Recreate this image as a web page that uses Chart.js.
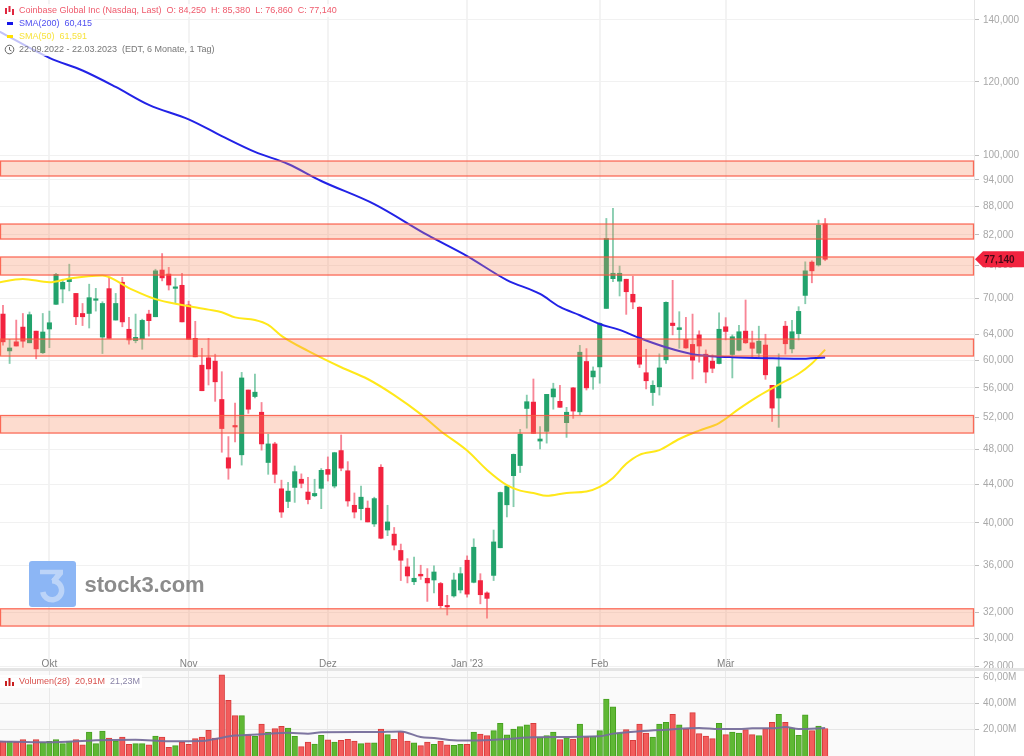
<!DOCTYPE html>
<html>
<head>
<meta charset="utf-8">
<title>Coinbase Global Inc</title>
<script src="https://cdn.jsdelivr.net/npm/chart.js@4"></script>
<style>
html,body{margin:0;padding:0;background:#fff;width:1024px;height:756px;overflow:hidden;font-family:"Liberation Sans",Arial,sans-serif}
#wm{position:absolute;left:29px;top:561px;width:47px;height:46px}
#wmt{position:absolute;left:84.5px;top:571px;font-size:22px;line-height:28px;font-weight:bold;color:#8c8c8c;letter-spacing:-.1px}
canvas{position:absolute;left:0}
#c1{top:0}
#c2{top:671px}
#sep{position:absolute;left:0;top:668px;width:1024px;height:3px;background:#e4e4e4}
.lg{position:absolute;left:0;font-size:9px;line-height:13px;height:13px;white-space:pre;background:rgba(255,255,255,.72);padding-left:19px;padding-right:2px}
.lg svg{position:absolute;left:4px;top:1px}
</style>
</head>
<body>
<canvas id="c1" width="1024" height="668"></canvas>
<canvas id="c2" width="1024" height="85"></canvas>
<svg id="wm" viewBox="0 0 47 46"><rect width="47" height="46" rx="3" fill="#8cb6f5"/><path d="M11 8.700H34V13.300L28 20.500L22 19L26.500 13.300H11Z" fill="#bcd4f8"/><path d="M23 19.800A9.500 9.500 0 1 1 13.800 31" fill="none" stroke="#bcd4f8" stroke-width="5.500"/></svg>
<div id="wmt">stock3.com</div>
<div id="sep"></div>
<div class="lg" style="top:4px;color:#ef5a6c"><svg width="11" height="11" viewBox="0 0 11 11"><path d="M1 3H3V9H1ZM4.500 1H6.500V7H4.500ZM8 4H10V10H8Z" fill="#e0263f"/></svg>Coinbase Global Inc (Nasdaq, Last)  O: 84,250  H: 85,380  L: 76,860  C: 77,140</div>
<div class="lg" style="top:17px;color:#4f4ff0"><svg width="11" height="11" viewBox="0 0 11 11"><rect x="3" y="4" width="6" height="3" fill="#1515e8"/></svg>SMA(200)  60,415</div>
<div class="lg" style="top:30px;color:#f7e33d"><svg width="11" height="11" viewBox="0 0 11 11"><rect x="3" y="4" width="6" height="3" fill="#ffe000"/></svg>SMA(50)  61,591</div>
<div class="lg" style="top:43px;color:#777"><svg width="11" height="11" viewBox="0 0 11 11"><circle cx="5.500" cy="5.500" r="4.300" fill="none" stroke="#666" stroke-width="1"/><path d="M5.500 3V5.800L7.500 7" fill="none" stroke="#666" stroke-width="1"/></svg>22.09.2022 - 22.03.2023  (EDT, 6 Monate, 1 Tag)</div>
<div class="lg" style="top:675px;color:#d9534f;background:rgba(255,255,255,.85)"><svg width="11" height="11" viewBox="0 0 11 11"><path d="M1 5H3V10H1ZM4.500 2H6.500V10H4.500ZM8 6H10V10H8Z" fill="#c81e1e"/></svg>Volumen(28)  20,91M  <span style="color:#8a84a8">21,23M</span></div>
<script>
// Price values in USD, one entry per trading day (22.09.2022 - 22.03.2023)
const opens = [
67.3,61.4,62.8,65.15,62.65,64.5,61.12,64.84,68.95,71.63,
72.95,70.85,67.4,67.4,69.65,63.55,71.7,66.3,72.85,64.8,
63.0,63.3,67.3,66.85,75.1,74.35,71.75,72.3,68.85,63.35,
59.25,60.35,59.85,54.4,47.05,50.9,47.4,55.7,54.8,52.7,
46.5,48.7,43.55,42.2,43.7,44.6,43.2,42.8,43.6,45.7,
43.85,47.9,45.55,41.8,41.45,41.5,39.9,45.95,39.3,38.9,
37.35,35.85,34.55,35.2,34.85,34.7,34.4,32.5,33.35,33.85,
36.45,34.5,34.65,33.6,35.1,37.6,41.85,45.0,46.15,53.2,
54.05,49.05,50.25,54.75,54.15,51.35,56.0,52.75,59.8,57.55,
59.0,68.25,73.5,73.05,73.4,70.7,68.45,58.15,55.35,56.15,
60.05,65.8,64.75,63.2,62.4,63.9,60.9,59.85,59.5,65.2,
60.85,61.5,64.5,62.65,61.05,62.3,56.35,54.6,65.3,61.7,
64.1,70.5,76.6,76.05,84.25];
const highs = [
68.8,63.2,66.3,67.4,67.65,64.5,67.4,67.8,74.5,73.4,
76.2,70.85,69.1,72.5,71.75,69.4,73.75,70.85,73.75,66.75,
67.3,66.45,67.95,75.25,78.25,75.6,73.6,74.5,69.5,66.1,
61.8,63.35,60.9,58.3,49.6,53.9,58.2,55.7,57.95,54.0,
49.9,48.9,44.5,44.25,46.1,45.2,44.8,44.6,45.8,47.15,
47.7,49.8,46.6,43.1,43.85,42.25,42.65,46.25,41.8,39.55,
37.95,36.6,36.75,36.0,35.7,35.95,34.5,33.4,35.3,35.8,
36.85,38.45,35.25,33.7,39.3,43.2,43.95,47.5,50.5,55.0,
57.25,50.85,55.1,56.65,56.35,53.35,56.05,62.25,61.75,59.0,
65.85,85.4,87.6,75.85,73.4,73.95,68.55,61.65,57.0,60.95,
69.4,73.2,67.7,66.75,67.3,64.55,61.55,60.8,67.5,66.7,
63.9,65.45,69.7,64.5,65.3,64.0,56.35,60.95,66.1,66.25,
68.55,76.65,76.85,85.05,85.38];
const lows = [
62.3,59.5,62.15,61.95,62.65,60.2,61.0,61.9,68.95,69.2,
71.3,65.55,65.4,65.0,67.8,61.0,63.35,66.3,65.2,62.45,
62.65,61.65,63.7,66.85,73.1,71.45,69.2,66.0,63.2,60.5,
55.6,56.4,54.15,47.7,44.6,48.95,46.2,52.55,54.6,47.95,
45.15,44.2,40.55,41.55,42.1,43.65,41.95,42.7,41.45,44.4,
43.65,45.55,41.7,40.5,40.3,40.1,39.65,38.45,38.75,37.4,
34.65,34.45,34.3,34.75,32.9,33.6,32.35,31.8,33.25,33.6,
33.25,34.45,32.7,31.55,34.65,37.6,40.6,41.65,45.35,50.65,
50.0,48.1,48.8,53.1,53.35,49.5,51.9,52.35,55.7,55.8,
56.65,68.25,72.95,70.4,67.25,68.2,58.9,55.85,53.6,55.0,
59.5,63.9,61.8,61.8,57.25,59.7,56.7,58.15,59.45,63.1,
57.4,61.4,62.55,60.5,60.5,57.2,51.5,50.75,60.9,61.1,
63.1,69.05,72.75,75.85,76.86];
const closes = [
62.8,61.85,62.15,62.9,67.2,61.7,64.36,65.86,74.3,72.83,
73.55,66.85,66.85,70.1,69.8,69.1,63.35,69.1,66.0,63.1,
63.5,66.25,66.2,74.95,73.65,72.35,72.0,66.0,63.2,60.5,
55.6,58.7,56.85,50.6,45.85,50.8,57.4,53.1,55.4,48.7,
48.7,45.15,41.1,43.3,45.45,44.15,42.4,43.05,45.6,45.15,
47.65,45.85,42.25,41.1,42.65,40.1,42.5,38.5,40.1,37.85,
36.45,35.05,34.85,35.05,34.45,35.4,32.55,32.45,34.7,35.25,
33.5,37.65,33.45,33.15,38.15,43.15,43.85,47.45,49.9,54.1,
50.0,49.3,55.1,55.85,53.35,52.7,52.85,61.2,56.0,58.4,
65.75,81.25,74.5,74.5,71.15,69.35,59.4,57.0,56.35,58.85,
69.3,65.4,65.05,61.85,60.0,62.15,58.25,58.8,64.8,64.45,
63.6,64.4,62.65,61.8,62.9,57.85,53.25,59.0,62.5,64.4,
67.75,74.95,74.95,83.95,77.14];
// Daily volume in millions
const volumes = [
11.15,11.15,10.4,12.4,8.6,12.4,10.4,11.15,12.4,9.4,
11.4,12.4,8.4,18.25,9.4,19,13.7,11.4,14.45,8.9,
9.4,9.4,8.4,15.2,14.45,6.6,7.85,10.65,8.9,13.2,
14.45,19.5,13.7,61.6,42.3,30.7,30.7,16,15,24.3,
18.25,20.8,22.6,21.3,15,7.1,10.65,9.1,15.7,12.2,
10.65,11.9,12.7,11.4,9.4,10.1,10.1,20.5,16.2,12.7,
18.5,11.4,10.1,7.85,10.65,8.9,11.4,8.4,8.1,8.9,
8.9,18.25,16.7,15.5,19.3,24.8,16,20.5,22.3,23.6,
24.8,14.2,15.5,18.25,12.4,13.9,12.9,24.3,14.45,15,
19.3,43.3,37.3,17.5,20,11.9,24.3,17.5,14.45,24.3,
25.6,31.7,23.6,20.5,33,17,15.2,13.2,24.8,16.2,
18.25,17.5,20,16.2,15.5,20.8,25.6,31.7,25.6,21.3,
15.7,31.2,19.3,22.8,20.91];
// Moving averages read at selected trading-day indices
const sma200Days = [-1,7,12,17,22,28,33,38,43,48,56,64,70,76,81,84,87,90,93,96,100,104,107,110,115,120,124];
const sma200Vals = [136.6,127.4,123.45,118.5,113.3,109.3,104.85,100.8,97.8,93.75,88.5,81.95,77.75,73.25,70.75,68.5,67.1,65.65,64.7,63.4,61.95,60.9,60.6,60.45,60.3,60.2,60.415];
const sma50Days = [-1,3,7,10,15,19,23,27,31,33,35,38,40,42,46,51,55,59,63,66,70,73,76,78,80,82,85,88,90,92,94,96,99,102,105,108,111,114,117,120,122,124];
const sma50Vals = [72.75,73.45,72.85,73.55,74.1,71.8,69.85,68.85,68.05,67.6,66.75,66.3,65.5,63.75,61.4,58.95,57.25,55.0,52.45,50.3,47.9,45.65,43.95,43.35,43.1,42.8,43.1,43.25,43.75,44.75,46.35,47.4,47.95,49.3,50.35,51.3,53.15,54.9,56.45,58.0,59.5,61.591];
const volMaDays = [-1,7,14,20,25,30,32,35,39,43,46,48,56,60,63,65,69,71,76,80,90,92,96,100,105,108,111,113,116,118,120,124];
const volMaVals = [11.1,10.4,12,12.4,11.2,11.4,13,15.5,16.5,17.7,17,18,18.2,18.7,14.4,13.7,11.7,11.7,12.9,14.2,15,17,18.8,20,21.3,20.5,20.5,21,21,22,20.5,21.23];
// Resistance / support zones
const zoneLows  = [94.92,81.13,74.17,60.62,50.04,30.94];
const zoneHighs = [98.53,84.22,77.58,63.24,52.27,32.30];
// Axis labels
const priceTicks = [140,120,100,94,88,82,76,70,64,60,56,52,48,44,40,36,32,30,28];
const volumeTicks = [20,40,60];
const monthDays = [7,28,49,70,90,109];
const monthLabels = ['Okt','Nov','Dez',"Jan '23",'Feb','Mär'];

const FONT = '"Liberation Sans", Arial, sans-serif';
Chart.defaults.font.family = FONT;
Chart.defaults.font.size = 10;
Chart.defaults.animation = false;

const UP = '#22a36c', DOWN = '#f2233f';
const UPW = 'rgba(34,163,108,.55)', DOWNW = 'rgba(242,35,63,.55)';
const idx = closes.map((_, i) => i);
const isUp = i => closes[i] >= opens[i];

function noPad(s) { s.paddingTop = s.paddingBottom = s.paddingLeft = s.paddingRight = 0; }
const xBase = {
  type: 'linear', min: -0.45, max: 146.45, offset: false,
  afterBuildTicks: s => { s.ticks = monthDays.map(v => ({ value: v })); },
  afterFit: s => { s.height = 0; noPad(s); },
  border: { display: false }
};
function yRight(extra) {
  return Object.assign({
    position: 'right',
    afterFit: s => { s.width = 50; noPad(s); },
    border: { display: true, color: '#e6e6e6', width: 1 }
  }, extra);
}

const zonesPlugin = {
  id: 'zones',
  afterDatasetsDraw(chart) {
    const { ctx, chartArea: a, scales: { y } } = chart;
    ctx.save();
    zoneLows.forEach((lo, i) => {
      const t = y.getPixelForValue(zoneHighs[i]), b = y.getPixelForValue(lo);
      ctx.fillStyle = 'rgba(248,140,95,.3)';
      ctx.fillRect(a.left, t, a.right - a.left, b - t);
      ctx.strokeStyle = 'rgba(250,85,65,.85)';
      ctx.lineWidth = 1.3;
      ctx.strokeRect(a.left + .5, t, a.right - a.left - 1, b - t);
    });
    ctx.restore();
  },
  afterDraw(chart) {
    const { ctx, scales: { y } } = chart;
    const last = closes[closes.length - 1], p = y.getPixelForValue(last);
    ctx.save();
    ctx.fillStyle = '#f2233f';
    ctx.beginPath();
    ctx.moveTo(975, p); ctx.lineTo(983, p - 8); ctx.lineTo(1024, p - 8); ctx.lineTo(1024, p + 8); ctx.lineTo(983, p + 8);
    ctx.closePath(); ctx.fill();
    ctx.fillStyle = '#4a0a18';
    ctx.font = 'bold 10px ' + FONT;
    ctx.textBaseline = 'middle';
    ctx.fillText(last.toFixed(3).replace('.', ','), 984, p + .5);
    ctx.restore();
  }
};

new Chart(document.getElementById('c1'), {
  type: 'bar',
  data: {
    datasets: [
      { type: 'bar', label: 'High-Low', order: 4, grouped: false, barThickness: 1.2,
        data: idx.map(i => ({ x: i, y: [lows[i], highs[i]] })),
        backgroundColor: idx.map(i => isUp(i) ? UPW : DOWNW) },
      { type: 'bar', label: 'Open-Close', order: 3, grouped: false, barThickness: 4.4, minBarLength: 1.5,
        data: idx.map(i => ({ x: i, y: [opens[i], closes[i]] })),
        backgroundColor: idx.map(i => isUp(i) ? UP : DOWN) },
      { type: 'line', label: 'SMA(200)', order: 1, borderColor: '#2222e6', borderWidth: 2, pointRadius: 0, cubicInterpolationMode: 'monotone',
        data: sma200Days.map((d, i) => ({ x: d, y: sma200Vals[i] })) },
      { type: 'line', label: 'SMA(50)', order: 2, borderColor: '#ffe81a', borderWidth: 2, pointRadius: 0, cubicInterpolationMode: 'monotone',
        data: sma50Days.map((d, i) => ({ x: d, y: sma50Vals[i] })) }
    ]
  },
  options: {
    responsive: false, devicePixelRatio: 1,
    layout: { padding: 0 },
    plugins: { legend: { display: false }, tooltip: { enabled: false } },
    scales: {
      x: Object.assign({}, xBase, {
        grid: { offset: false, color: '#f3f3f3', lineWidth: 2, drawTicks: false },
        ticks: { autoSkip: false, maxRotation: 0, mirror: true, padding: -2, color: '#808080', font: { size: 10 },
          callback: v => monthLabels[monthDays.indexOf(v)] }
      }),
      y: yRight({
        type: 'logarithmic', min: 27.87, max: 147.15,
        afterBuildTicks: s => { s.ticks = priceTicks.map(v => ({ value: v })); },
        grid: { color: '#f1f1f1', lineWidth: 1, tickColor: '#bdbdbd', tickLength: 5 },
        ticks: { autoSkip: false, padding: 4, color: '#a8a8a8', font: { size: 10 },
          callback: v => v.toFixed(3).replace('.', ',') }
      })
    }
  },
  plugins: [zonesPlugin]
});

new Chart(document.getElementById('c2'), {
  type: 'bar',
  data: {
    datasets: [
      { type: 'bar', label: 'Volumen', order: 2, grouped: false, barThickness: 5.6, borderWidth: 1,
        data: idx.map(i => ({ x: i, y: volumes[i] })),
        backgroundColor: idx.map(i => isUp(i) ? '#5fb834' : '#f25c5c'),
        borderColor: idx.map(i => isUp(i) ? '#46a01f' : '#d83c3c') },
      { type: 'line', label: 'MA(28)', order: 1, borderColor: 'rgba(118,110,155,.95)', borderWidth: 2, pointRadius: 0, cubicInterpolationMode: 'monotone',
        data: volMaDays.map((d, i) => ({ x: d, y: volMaVals[i] })) }
    ]
  },
  options: {
    responsive: false, devicePixelRatio: 1,
    layout: { padding: 0 },
    plugins: { legend: { display: false }, tooltip: { enabled: false } },
    scales: {
      x: Object.assign({}, xBase, {
        grid: { offset: false, color: '#e9e9e9', lineWidth: 1, drawTicks: false },
        ticks: { display: false }
      }),
      y: yRight({
        type: 'linear', min: 0, max: 64.6,
        afterBuildTicks: s => { s.ticks = volumeTicks.map(v => ({ value: v })); },
        grid: { color: '#e6e6e6', lineWidth: 1, tickColor: '#bdbdbd', tickLength: 5 },
        ticks: { autoSkip: false, padding: 4, color: '#a8a8a8', font: { size: 10 },
          callback: v => v.toFixed(2).replace('.', ',') + 'M' }
      })
    }
  },
  plugins: [{
    id: 'paneBg',
    beforeDraw(chart) {
      const { ctx, chartArea: a } = chart;
      ctx.save(); ctx.fillStyle = '#fafafa';
      ctx.fillRect(a.left, a.top, a.right - a.left, a.bottom - a.top);
      ctx.restore();
    }
  }]
});
</script>
</body>
</html>
